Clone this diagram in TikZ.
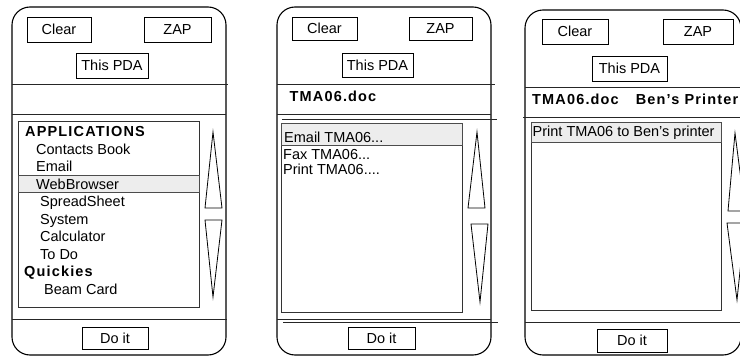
\documentclass[tikz,border=0pt]{standalone}
\usepackage{fontspec}
\setmainfont{Liberation Sans}
\newfontfamily\hdfont[LetterSpace=8]{Liberation Sans}
\begin{document}
\begin{tikzpicture}[x=1pt,y=-1pt,
  font=\fontsize{14.5}{17}\selectfont,
  frame/.style={draw=black,line width=1.1pt,rounded corners=18pt},
  rule/.style={draw=black!85,line width=1pt},
  btn/.style={draw=black,line width=0.9pt,inner sep=0pt,minimum width=#1,minimum height=23pt},
  listbox/.style={draw=black!80,line width=1pt},
  hilite/.style={draw=black!70,fill=black!7,line width=0.8pt},
  item/.style={anchor=base west,inner sep=0pt},
  head/.style={anchor=base west,inner sep=0pt,font=\fontsize{14.5}{17}\hdfont\bfseries},
  arrowshape/.style={draw=black,line width=0.8pt,line join=miter}]
\useasboundingbox (0,0) rectangle (740,356);

% ---------------- first screen: application list ----------------
\draw[frame] (12,7) rectangle (226,355);
\draw[rule] (12,84) -- (228,84);
\draw[rule] (12,114) -- (226,114);
\draw[rule] (12,319) -- (227,319);
\node[btn=64pt,minimum height=25pt] (clearA) at (59,29.5) {Clear};
\node[btn=67pt,minimum height=25pt] (zapA) at (177.5,29.5) {ZAP};
\node[btn=72pt,minimum height=25pt] (pdaA) at (112,65.5) {This PDA};
\node[btn=66pt,minimum height=22pt] (doA) at (115,338) {Do it};
\draw[listbox] (18,121) rectangle (199,307);
\draw[hilite] (18,175) rectangle (199,192);
\node[head] (appsA) at (25,136.7) {APPLICATIONS};
\node[item] (i1) at (36,154) {Contacts Book};
\node[item] (i2) at (36,171.7) {Email};
\node[item] (i3) at (36,189.5) {WebBrowser};
\node[item] (i4) at (40,206.7) {SpreadSheet};
\node[item] (i5) at (40,224.3) {System};
\node[item] (i6) at (40,241.7) {Calculator};
\node[item] (i7) at (40,259.3) {To Do};
\node[head] (quickA) at (24,276.5) {Quickies};
\node[item] (i8) at (44,294) {Beam Card};
\draw[arrowshape] (213,132) -- (222,208) -- (205,208) -- cycle;
\draw[arrowshape] (205,220) -- (222,220) -- (213,297) -- cycle;

% ---------------- second screen: actions on a document ----------------
\draw[frame] (277,7) rectangle (491,355);
\draw[rule] (277,84) -- (495,84);
\draw[rule] (277,114.3) -- (491,114.3);
\draw[rule] (282,119) -- (497,119);
\draw[rule] (277,319.3) -- (491,319.3);
\draw[rule] (283,322.7) -- (498,322.7);
\node[btn=65pt] (clearB) at (324.5,28.5) {Clear};
\node[btn=63pt] (zapB) at (440.5,28.5) {ZAP};
\node[btn=71pt,minimum height=24pt] (pdaB) at (377.5,65) {This PDA};
\node[btn=67pt,minimum height=22pt] (doB) at (381.5,338) {Do it};
\node[head] (docB) at (289.5,101.7) {TMA06.doc};
\draw[listbox] (281,123.3) rectangle (462,312);
\draw[hilite] (281,123.3) rectangle (462,145);
\node[item] (j1) at (284,142.7) {Email TMA06...};
\node[item] (j2) at (283,159) {Fax TMA06...};
\node[item] (j3) at (283,174) {Print TMA06....};
\draw[arrowshape] (477,132) -- (485,208) -- (468,208) -- cycle;
\draw[arrowshape] (471,224) -- (488,224) -- (480,302) -- cycle;

% ---------------- third screen: chosen printer ----------------
\draw[frame] (525,10) rectangle (741,355);
\draw[rule] (525,87) -- (745,87);
\draw[rule] (523,117) -- (745,117);
\draw[rule] (525,322) -- (745,322);
\node[btn=66pt,minimum height=25pt] (clearC) at (575,31.5) {Clear};
\node[btn=70pt,minimum height=25pt] (zapC) at (698,31.5) {ZAP};
\node[btn=75pt,minimum height=25pt] (pdaC) at (629.5,68.5) {This PDA};
\node[btn=70pt,minimum height=23pt] (doC) at (632,340.5) {Do it};
\node[head] (docC) at (532,104.3) {TMA06.doc\hspace{17pt}Ben’s Printer};
\draw[listbox] (531,122) rectangle (721,310);
\draw[hilite] (531,122) rectangle (721,142);
\node[item] (k1) at (532.5,136) {Print TMA06 to Ben’s printer};
\draw[arrowshape] (735,133) -- (745,211) -- (728,211) -- cycle;
\draw[arrowshape] (727,223) -- (745,223) -- (737,300) -- cycle;
\end{tikzpicture}
\end{document}
